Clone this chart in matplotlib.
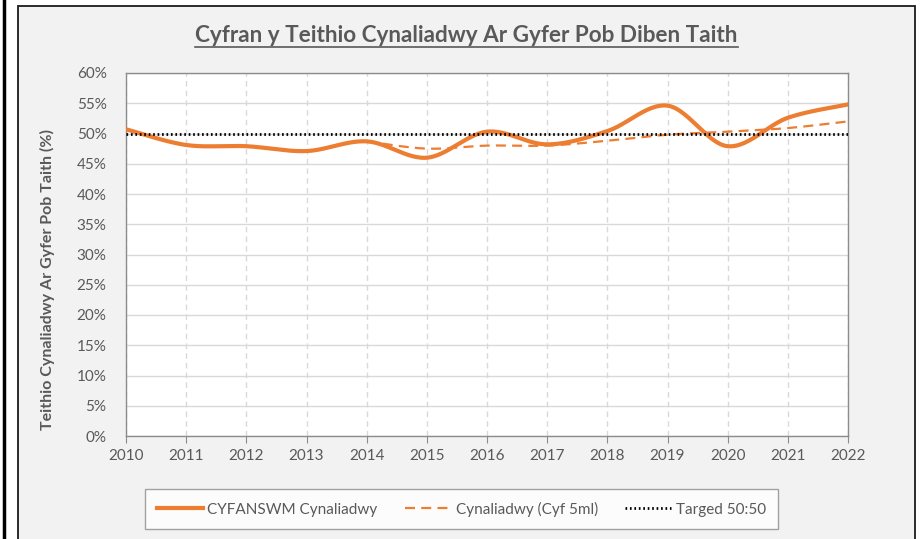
import numpy as np
import matplotlib
matplotlib.use("Agg")
import matplotlib.pyplot as plt
from matplotlib.patches import Rectangle
from matplotlib.lines import Line2D

years = [2010, 2011, 2012, 2013, 2014, 2015, 2016, 2017, 2018, 2019, 2020, 2021, 2022]
cyfanswm = [50.7, 48.1, 47.9, 47.1, 48.7, 46.0, 50.3, 48.2, 50.4, 54.6, 47.9, 52.6, 54.8]
years_5ml = [2014, 2015, 2016, 2017, 2018, 2019, 2020, 2021, 2022]
cyf_5ml = [48.7, 47.5, 48.0, 48.0, 48.8, 49.8, 50.3, 50.9, 52.0]
target = 50.0

title = "Cyfran y Teithio Cynaliadwy Ar Gyfer Pob Diben Taith"
ylabel = "Teithio Cynaliadwy Ar Gyfer Pob Taith (%)"
labels = ["CYFANSWM Cynaliadwy", "Cynaliadwy (Cyf 5ml)", "Targed 50:50"]

plt.rcParams['font.family'] = ['Lato', 'DejaVu Sans']
TXT = '#595959'
ORANGE = '#ed7d31'


def smooth(x, y, n=30):
    # Excel-style smoothed line: cubic Bezier with Catmull-Rom control points
    x = np.asarray(x, float); y = np.asarray(y, float)
    P = np.column_stack([x, y])
    out = []
    for i in range(len(P) - 1):
        p0 = P[i - 1] if i > 0 else P[i]
        p1 = P[i]; p2 = P[i + 1]
        p3 = P[i + 2] if i + 2 < len(P) else P[i + 1]
        c1 = p1 + (p2 - p0) / 6.0
        c2 = p2 - (p3 - p1) / 6.0
        t = np.linspace(0, 1, n)[:, None]
        seg = ((1 - t) ** 3) * p1 + 3 * ((1 - t) ** 2) * t * c1 + 3 * (1 - t) * t ** 2 * c2 + t ** 3 * p2
        out.append(seg if i == 0 else seg[1:])
    s = np.vstack(out)
    return s[:, 0], s[:, 1]


W, H = 922, 539
fig = plt.figure(figsize=(W / 100, H / 100), dpi=100)
fig.patch.set_facecolor('white')

# outer decorations
fig.add_artist(Rectangle((18 / W, -0.01), (915 - 18) / W, (H - 6) / H + 0.01, transform=fig.transFigure,
                         facecolor='#f2f2f2', edgecolor='#1a1a1a', linewidth=1.3, zorder=0))
fig.add_artist(Line2D([4 / W, 4 / W], [0, 1], transform=fig.transFigure, color='black', linewidth=2.5))

ax = fig.add_axes([126 / W, (H - 436) / H, (848 - 126) / W, (436 - 73) / H])
ax.set_facecolor('white')

xs, ys = smooth(years, cyfanswm)
ax.plot(xs, ys, color=ORANGE, linewidth=3.0, solid_capstyle='round', zorder=3)
xs2, ys2 = smooth(years_5ml, cyf_5ml)
ax.plot(xs2, ys2, color=ORANGE, linewidth=1.6, linestyle=(0, (4.5, 2.8)), zorder=3)
ax.plot([years[0], years[-1]], [target, target], color='black', linewidth=2.0,
        linestyle=(0, (0.6, 1.0)), zorder=4)

ax.set_xlim(2010, 2022)
ax.set_ylim(0, 60)
ax.set_xticks(years)
ax.set_xticklabels([str(y) for y in years])
ax.set_yticks(np.arange(0, 61, 5))
ax.set_yticklabels([f"{v}%" for v in range(0, 61, 5)])
ax.grid(axis='y', color='#d9d9d9', linewidth=1.0, linestyle='-')
ax.grid(axis='x', color='#d9d9d9', linewidth=1.0, linestyle=(0, (4, 3)))
ax.set_axisbelow(True)
for side in ['top', 'right', 'left', 'bottom']:
    ax.spines[side].set_color('#8c8c8c')
    ax.spines[side].set_linewidth(1.0)
ax.tick_params(axis='x', direction='out', length=5, color='#8c8c8c', labelcolor=TXT, labelsize=11, pad=4)
ax.tick_params(axis='y', length=0, labelcolor=TXT, labelsize=11, pad=14)
ax.set_ylabel(ylabel, color=TXT, fontsize=11.5, fontweight='bold')
ax.yaxis.set_label_coords(-0.098, 0.43)

t = fig.text((197 + 736) / 2 / W, (H - 35) / H, title, ha='center', va='center',
             fontsize=16.2, fontweight='bold', color=TXT)

handles = [Line2D([], [], color=ORANGE, linewidth=3.0),
           Line2D([], [], color=ORANGE, linewidth=1.6, linestyle=(0, (4.5, 2.8))),
           Line2D([], [], color='black', linewidth=2.0, linestyle=(0, (0.6, 1.0)))]
leg = fig.legend(handles, labels, loc='center', bbox_to_anchor=(461.5 / W, (H - 509) / H), ncol=3,
                 frameon=True, fancybox=False, edgecolor='#8c8c8c', facecolor='white',
                 fontsize=11, handlelength=3.0, columnspacing=1.8, borderpad=0.8, handletextpad=0.3)
leg.get_frame().set_linewidth(1.0)
for txt in leg.get_texts():
    txt.set_color(TXT)

# underline title
fig.canvas.draw()
bb = t.get_window_extent(fig.canvas.get_renderer())
y_ul = (bb.y0 - 1) / H
fig.add_artist(Line2D([bb.x0 / W, bb.x1 / W], [y_ul, y_ul], transform=fig.transFigure, color=TXT, linewidth=1.2))

fig.savefig('out.png', dpi=100)
